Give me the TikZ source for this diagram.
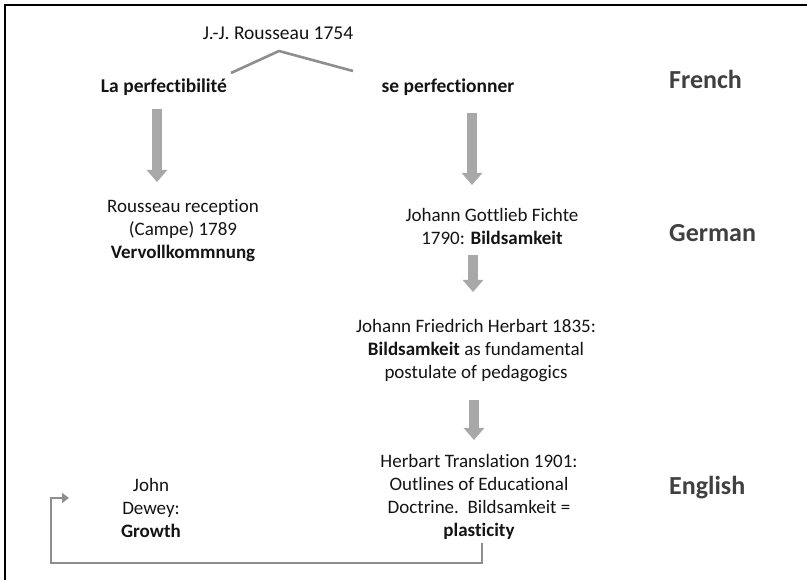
\documentclass[tikz,border=0pt]{standalone}
\usepackage{fontspec}
\setmainfont{Carlito}[Ligatures=NoCommon]
\usetikzlibrary{arrows.meta}
\definecolor{txt}{HTML}{141414}
\definecolor{lbl}{HTML}{404040}
\definecolor{blk}{HTML}{A8A8A8}
\definecolor{conn}{HTML}{8E8E8E}
\tikzset{
  body/.style={inner sep=0pt, align=center, text=txt, font=\fontsize{19}{23}\selectfont},
  bodybold/.style={inner sep=0pt, align=center, text=txt, font=\fontsize{19.5}{23}\selectfont\bfseries},
  lang/.style={inner sep=0pt, anchor=west, text=lbl, font=\fontsize{26}{30}\selectfont\bfseries},
  blockarrow/.style={draw=blk, line width=10pt, -{Triangle[width=20pt,length=12pt]}},
  thinconn/.style={draw=conn, line width=2.6pt},
}
\begin{document}
\begin{tikzpicture}[x=1pt,y=-1pt]
\useasboundingbox (0,0) rectangle (807,580);
\fill[white] (0,0) rectangle (807,580);
% frame
\draw[line width=2.4pt, black] (5,580) -- (5,5) -- (807,5);

% texts
\node[body, font=\fontsize{19.5}{23}\selectfont] (rous) at (278,33) {J.-J. Rousseau 1754};
\node[bodybold] (perf) at (164,87) {La perfectibilité};
\node[bodybold] (sepf) at (448,87) {se perfectionner};
\node[lang] (fr) at (669,79) {French};
\node[lang] (de) at (669,233) {German};
\node[lang] (en) at (669,488) {English};

\node[body] (recep) at (183,230.5) {Rousseau reception\\(Campe) 1789\\\textbf{Vervollkommnung}};
\node[body] (fichte) at (492,226) {Johann Gottlieb Fichte\\1790: \textbf{Bildsamkeit}};
\node[body] (herb) at (476,350.5) {Johann Friedrich Herbart 1835:\\\textbf{Bildsamkeit} as fundamental\\postulate of pedagogics};
\node[body] (transl) at (479,496.5) {Herbart Translation 1901:\\Outlines of Educational\\Doctrine.\ \ Bildsamkeit =\\\textbf{plasticity}};
\node[body] (dewey) at (151,508) {John\\Dewey:\\\textbf{Growth}};

% roof
\coordinate (roofL) at (231,73);
\coordinate (roofA) at (279,51);
\coordinate (roofR) at (353,71);
\draw[thinconn, line join=round] (roofL) -- (roofA) -- (roofR);

% block arrows
\coordinate (a1s) at (157,109);
\coordinate (a1e) at (157,182);
\coordinate (a2s) at (472,113);
\coordinate (a2e) at (472,185);
\coordinate (a3s) at (473,255);
\coordinate (a3e) at (473,292);
\coordinate (a4s) at (474,400);
\coordinate (a4e) at (474,440);
\draw[blockarrow] (a1s) -- (a1e);
\draw[blockarrow] (a2s) -- (a2e);
\draw[blockarrow] (a3s) -- (a3e);
\draw[blockarrow] (a4s) -- (a4e);

% elbow connector
\coordinate (elbS) at (482,543);
\coordinate (elbT) at (69,498);
\draw[thinconn, line join=miter, -{Triangle[width=10pt,length=7pt]}] (elbS) -- (482,563) -- (51,563) -- (51,498) -- (elbT);
\end{tikzpicture}
\end{document}
